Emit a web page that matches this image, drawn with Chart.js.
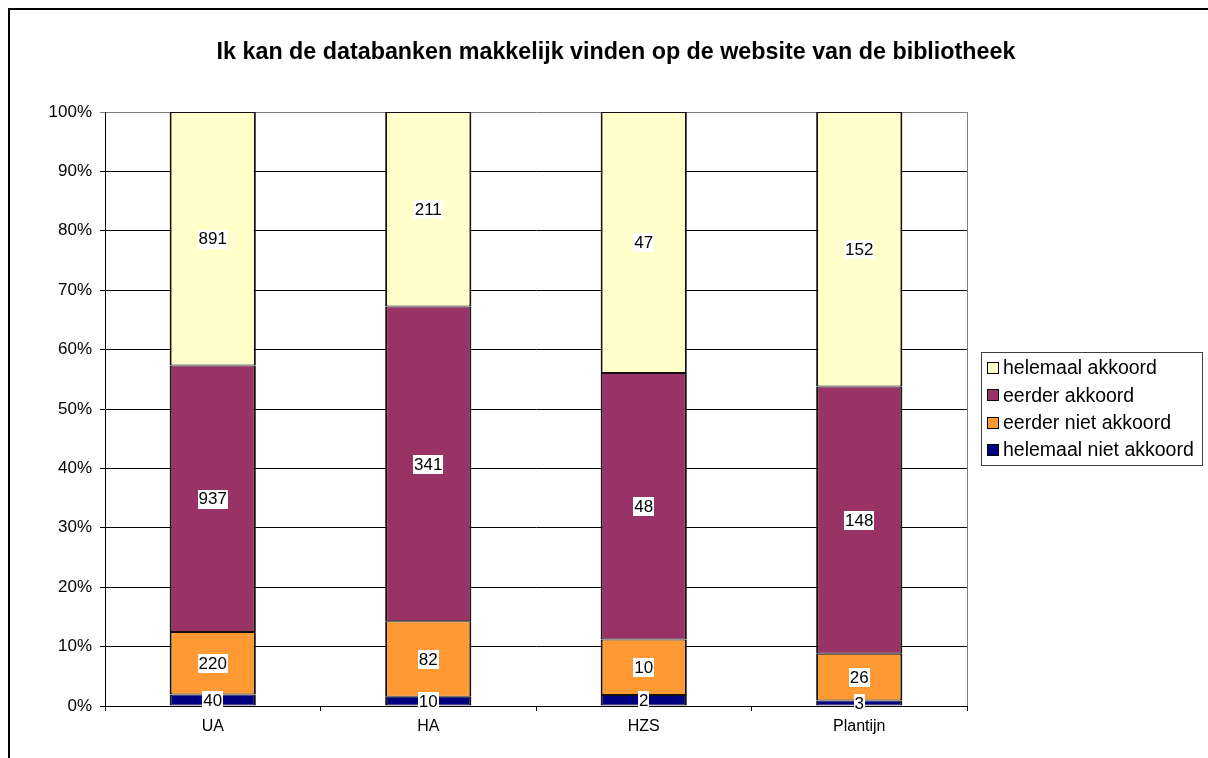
<!DOCTYPE html>
<html>
<head>
<meta charset="utf-8">
<title>databanken</title>
<script src="https://cdn.jsdelivr.net/npm/chart.js@4.4.1/dist/chart.umd.min.js"></script>
<style>
body{margin:0;background:#fff;overflow:hidden}
#wrap{width:1208px;height:758px;position:relative}
</style>
</head>
<body>
<div id="wrap"><canvas id="BarChart"></canvas></div>
<script>
var instellingen = ['UA', 'HA', 'HZS', 'Plantijn'];
var helemaalNietAkkoord = [40, 10, 2, 3];
var eerderNietAkkoord = [220, 82, 10, 26];
var eerderAkkoord = [937, 341, 48, 148];
var helemaalAkkoord = [891, 211, 47, 152];
var titel = 'Ik kan de databanken makkelijk vinden op de website van de bibliotheek';

var FONT = 'Arial, "Liberation Sans", sans-serif';

// totals per column, used to turn counts into shares of 100%
var totals = instellingen.map(function (c, i) {
  return helemaalNietAkkoord[i] + eerderNietAkkoord[i] + eerderAkkoord[i] + helemaalAkkoord[i];
});
function pct(arr) {
  return arr.map(function (v, i) { return v / totals[i] * 100; });
}

var series = [
  {label: 'helemaal niet akkoord', counts: helemaalNietAkkoord, color: '#000080'},
  {label: 'eerder niet akkoord', counts: eerderNietAkkoord, color: '#FF9933'},
  {label: 'eerder akkoord', counts: eerderAkkoord, color: '#993366'},
  {label: 'helemaal akkoord', counts: helemaalAkkoord, color: '#FFFFCC'}
];

// value labels with white box in the middle of each segment
var valueLabels = {
  id: 'valueLabels',
  afterDatasetsDraw: function (chart) {
    var ctx = chart.ctx;
    ctx.save();
    ctx.font = '17px ' + FONT;
    ctx.textAlign = 'center';
    ctx.textBaseline = 'middle';
    chart.data.datasets.forEach(function (ds, d) {
      chart.getDatasetMeta(d).data.forEach(function (bar, i) {
        var txt = String(ds.counts[i]);
        var y = (bar.y + bar.base) / 2;
        var w = ctx.measureText(txt).width + 2;
        ctx.fillStyle = '#fff';
        ctx.fillRect(Math.round(bar.x - w / 2), Math.round(y - 9), Math.round(w), 19);
        ctx.fillStyle = '#000';
        ctx.fillText(txt, bar.x, y + 1);
      });
    });
    ctx.restore();
  }
};

// title, frame, plot border and legend box
var decor = {
  id: 'decor',
  afterDraw: function (chart) {
    var ctx = chart.ctx;
    var a = chart.chartArea;
    ctx.save();
    // outer frame
    ctx.strokeStyle = '#000';
    ctx.lineWidth = 2;
    ctx.strokeRect(9, 9, 1400, 900);
    // right edge of plot area
    ctx.lineWidth = 1;
    ctx.strokeStyle = '#808080';
    ctx.beginPath();
    ctx.moveTo(a.right + 0.5, a.top);
    ctx.lineTo(a.right + 0.5, a.bottom);
    ctx.stroke();
    // title
    ctx.fillStyle = '#000';
    ctx.font = 'bold 23.3px ' + FONT;
    ctx.textAlign = 'center';
    ctx.textBaseline = 'middle';
    ctx.fillText(titel, 616, 53);
    // legend
    var lx = 981, ly = 352, lw = 221, lh = 113;
    ctx.strokeStyle = '#404040';
    ctx.strokeRect(lx + 0.5, ly + 0.5, lw, lh);
    ctx.font = '19.5px ' + FONT;
    ctx.textAlign = 'left';
    var items = chart.data.datasets.slice().reverse();
    items.forEach(function (ds, k) {
      var cy = ly + 16 + k * 27.3;
      ctx.fillStyle = ds.backgroundColor;
      ctx.fillRect(lx + 6, Math.round(cy - 6), 12, 12);
      ctx.strokeStyle = '#000';
      ctx.strokeRect(lx + 6.5, Math.round(cy - 6) + 0.5, 11, 11);
      ctx.fillStyle = '#000';
      ctx.fillText(ds.label, lx + 22, cy + 1);
    });
    ctx.restore();
  }
};

new Chart('BarChart', {
  type: 'bar',
  data: {
    labels: instellingen,
    datasets: series.map(function (s) {
      return {
        label: s.label,
        counts: s.counts,
        data: pct(s.counts),
        backgroundColor: s.color,
        borderColor: '#111',
        borderWidth: {left: 2, right: 2, top: 1, bottom: 1},
        borderSkipped: false,
        categoryPercentage: 1,
        barPercentage: 0.4
      };
    })
  },
  options: {
    responsive: true,
    maintainAspectRatio: false,
    animation: false,
    layout: {padding: {left: 10, right: 241, top: 112, bottom: 12}},
    plugins: {legend: {display: false}, tooltip: {enabled: false}, title: {display: false}},
    scales: {
      x: {
        stacked: true,
        afterFit: function (s) { s.height = 40; },
        grid: {offset: true, drawOnChartArea: false, color: '#000', tickLength: 5},
        border: {color: '#000'},
        ticks: {color: '#000', font: {family: FONT, size: 16}, padding: 6}
      },
      y: {
        stacked: true,
        min: 0,
        max: 100,
        afterFit: function (s) { s.width = 95; },
        grid: {
          color: function (c) { return c.tick && c.tick.value === 100 ? '#808080' : '#000'; },
          tickLength: 5
        },
        border: {color: '#000'},
        ticks: {
          stepSize: 10,
          color: '#000',
          padding: 8,
          font: {family: FONT, size: 17},
          callback: function (v) { return v + '%'; }
        }
      }
    }
  },
  plugins: [valueLabels, decor]
});
</script>
</body>
</html>
